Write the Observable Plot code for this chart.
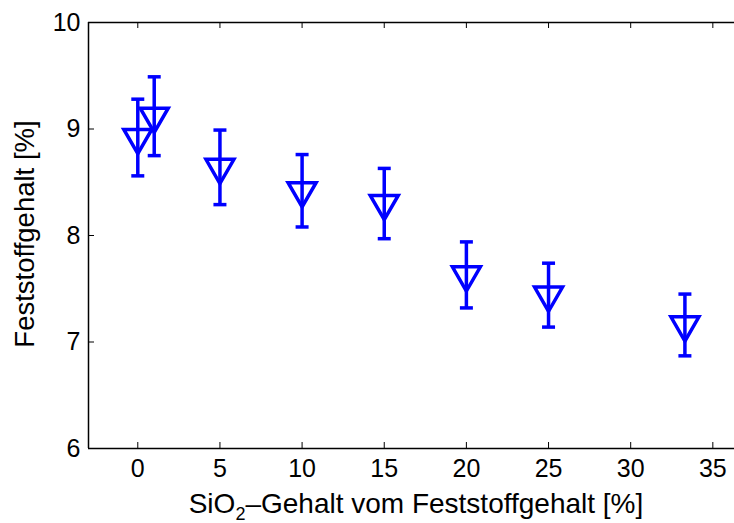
<!DOCTYPE html>
<html><head><meta charset="utf-8">
<script src="https://cdn.jsdelivr.net/npm/d3@7"></script>
<script src="https://cdn.jsdelivr.net/npm/@observablehq/plot@0.6"></script>
<style>
html,body{margin:0;padding:0;background:#fff;overflow:hidden;}
</style></head><body><div id="chart"></div>
<script>
const sio2 = [0, 1, 5, 10, 15, 20, 25, 33.3];
const feststoff = [8.92, 9.12, 8.64, 8.42, 8.30, 7.63, 7.44, 7.16];
const fehler = [0.36, 0.37, 0.35, 0.34, 0.33, 0.31, 0.30, 0.29];
const xTicks = [0, 5, 10, 15, 20, 25, 30, 35];
const yTicks = [6, 7, 8, 9, 10];
const xDomain = [-3, 37];
const yDomain = [6, 10];
const xLabel = ["SiO", "2", "\u2013Gehalt vom Feststoffgehalt [%]"];
const yLabel = "Feststoffgehalt [%]";

const data = sio2.map((x, i) => ({x, y: feststoff[i], lo: feststoff[i] - fehler[i], hi: feststoff[i] + fehler[i]}));
const cap = {draw(ctx) { ctx.moveTo(-6.5, 0); ctx.lineTo(6.5, 0); }};
const blue = "#0000ff";
const W = 734, H = 523, mL = 88, mT = 22, mB = 75;
const plotH = H - mT - mB, plotW = W - mL;

const svg = Plot.plot({
  width: W, height: H,
  marginLeft: mL, marginRight: 0, marginTop: mT, marginBottom: mB,
  style: {fontFamily: "'Liberation Sans', Arial, sans-serif", fontSize: "25px", color: "#000", background: "#fff", overflow: "hidden"},
  x: {domain: xDomain, range: [mL, mL + (xDomain[1] - xDomain[0]) * 16.43]},
  y: {domain: yDomain},
  marks: [
    Plot.ruleY(yDomain, {stroke: "#000", strokeWidth: 1.5}),
    Plot.ruleX([xDomain[0]], {stroke: "#000", strokeWidth: 1.5}),
    Plot.tickX(xTicks, {x: d => d, insetTop: plotH - 6, stroke: "#000"}),
    Plot.tickX(xTicks, {x: d => d, insetBottom: plotH - 6, stroke: "#000"}),
    Plot.tickY(yTicks, {y: d => d, insetRight: plotW - 6, stroke: "#000"}),
    Plot.axisX({ticks: xTicks, tickSize: 0, tickPadding: 11, label: null, tickFormat: d => d}),
    Plot.axisY({ticks: yTicks, tickSize: 0, tickPadding: 8, label: null, tickFormat: d => d}),
    Plot.ruleX(data, {x: "x", y1: "lo", y2: "hi", stroke: blue, strokeWidth: 3.5}),
    Plot.dot(data, {x: "x", y: "lo", symbol: cap, stroke: blue, strokeWidth: 3.5}),
    Plot.dot(data, {x: "x", y: "hi", symbol: cap, stroke: blue, strokeWidth: 3.5}),
    Plot.dot(data, {x: "x", y: "y", symbol: "triangle", rotate: 180, r: 10.4, stroke: blue, strokeWidth: 3.5, fill: "none"})
  ]
});

const s = d3.select(svg);
const xt = s.append("text")
  .attr("x", 416).attr("y", 513)
  .attr("text-anchor", "middle")
  .attr("font-size", 28).attr("fill", "#000");
xt.append("tspan").text(xLabel[0]);
xt.append("tspan").attr("dy", 7).attr("font-size", 18).text(xLabel[1]);
xt.append("tspan").attr("dy", -7).text(xLabel[2]);
s.append("text")
  .attr("transform", "translate(34,234) rotate(-90)")
  .attr("text-anchor", "middle")
  .attr("font-size", 27.5).attr("fill", "#000")
  .text(yLabel);

document.getElementById("chart").appendChild(svg);
</script></body></html>
